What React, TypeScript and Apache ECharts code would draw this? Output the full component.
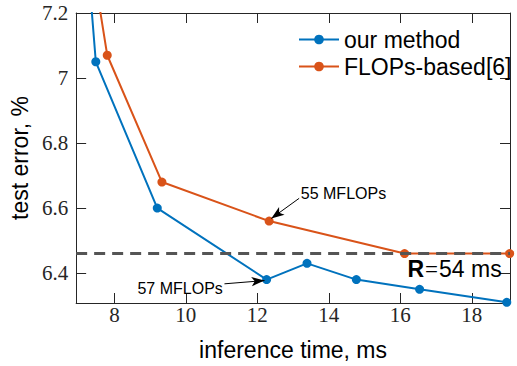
import React, { useEffect, useRef } from "react";
import * as echarts from "echarts";

const ourMethod: [number, number][] = [
  [7.08, 7.6], [7.48, 7.05], [9.2, 6.6], [12.26, 6.38], [13.39, 6.43],
  [14.77, 6.38], [16.54, 6.35], [18.98, 6.31],
];
const flopsBased: [number, number][] = [
  [7.03, 7.6], [7.8, 7.07], [9.33, 6.68], [12.33, 6.56], [16.12, 6.46], [19.06, 6.46],
];
const seriesNames = ["our method", "FLOPs-based[6]"];
const budget = 6.46;
const xRange = [6.93, 19.07];
const yRange = [6.308, 7.2];
const arrows: { from: [number, number]; to: [number, number] }[] = [
  { from: [13.17, 6.63], to: [12.39, 6.568] },
  { from: [11.08, 6.367], to: [12.2, 6.377] },
];
const notes: { at: [number, number]; text: string }[] = [
  { at: [14.41, 6.646], text: "55 MFLOPs" },
  { at: [9.84, 6.352], text: "57 MFLOPs" },
];
const budgetLabelAt: [number, number] = [16.2, 6.412];

const SANS = "Liberation Sans";
const SERIF = "Liberation Serif";
const AXIS = "#262626";

export default function App() {
  const ref = useRef<HTMLDivElement>(null);
  useEffect(() => {
    const chart = echarts.init(ref.current!, null, { renderer: "svg" });
    const axisCommon = {
      type: "value" as const,
      axisLine: { show: true, lineStyle: { color: AXIS, width: 1 } },
      axisTick: { show: true, inside: true, length: 10, lineStyle: { color: AXIS } },
      splitLine: { show: false },
    };
    const tickText = {
      fontFamily: SERIF,
      fontSize: 21,
      color: AXIS,
    };
    chart.setOption({
      animation: false,
      grid: { left: 69, top: 13, right: 7, bottom: 59, containLabel: false },
      legend: {
        data: seriesNames,
        orient: "vertical",
        left: 298,
        top: 28,
        itemWidth: 40,
        itemHeight: 12,
        itemGap: 4,
        textStyle: { fontFamily: SANS, fontSize: 23, color: "#000", lineHeight: 23 },
        padding: 0,
      },
      xAxis: [
        {
          ...axisCommon,
          min: xRange[0],
          max: xRange[1],
          splitNumber: 6,
          minInterval: 2,
          maxInterval: 2,
          position: "bottom",
          name: "inference time, ms",
          nameLocation: "middle",
          nameGap: 35,
          nameTextStyle: { fontFamily: SANS, fontSize: 23, color: "#000" },
          axisLabel: {
            ...tickText,
            showMinLabel: false,
            showMaxLabel: false,
            margin: 1,
          },
        },
        {
          ...axisCommon,
          min: xRange[0],
          max: xRange[1],
          splitNumber: 6,
          minInterval: 2,
          maxInterval: 2,
          position: "top",
          axisLabel: { show: false },
        },
      ],
      yAxis: [
        {
          ...axisCommon,
          min: yRange[0],
          max: yRange[1],
          splitNumber: 5,
          minInterval: 0.2,
          maxInterval: 0.2,
          position: "left",
          name: "test error, %",
          nameLocation: "middle",
          nameGap: 42,
          nameTextStyle: { fontFamily: SANS, fontSize: 23, color: "#000" },
          axisLabel: {
            ...tickText,
            showMinLabel: false,
            margin: 8,
          },
        },
        {
          ...axisCommon,
          min: yRange[0],
          max: yRange[1],
          splitNumber: 5,
          minInterval: 0.2,
          maxInterval: 0.2,
          position: "right",
          axisLabel: { show: false },
        },
      ],
      series: [
        {
          name: seriesNames[0],
          type: "line",
          data: ourMethod,
          symbol: "circle",
          symbolSize: 9,
          clip: true,
          color: "#0072BD",
          lineStyle: { width: 2, color: "#0072BD" },
          itemStyle: { color: "#0072BD" },
          markPoint: {
            symbol: "circle",
            symbolSize: 0,
            silent: true,
            data: [
              ...notes.map((n) => ({
                coord: n.at,
                label: {
                  show: true,
                  position: "inside",
                  formatter: n.text,
                  fontFamily: SANS,
                  fontSize: 16,
                  color: "#000",
                },
              })),
              {
                coord: budgetLabelAt,
                label: {
                  show: true,
                  position: "right",
                  distance: 0,
                  formatter: "{b|R}{e|=}{n|54 ms}",
                  rich: {
                    b: { fontFamily: SANS, fontSize: 23, fontWeight: "bold", color: "#000" },
                    e: { fontFamily: SERIF, fontSize: 23, color: "#000", padding: [0, 1, 0, 1] },
                    n: { fontFamily: SANS, fontSize: 23, color: "#000" },
                  },
                },
              },
            ],
          },
        },
        {
          name: seriesNames[1],
          type: "line",
          data: flopsBased,
          symbol: "circle",
          symbolSize: 9,
          clip: true,
          color: "#D95319",
          lineStyle: { width: 2, color: "#D95319" },
          itemStyle: { color: "#D95319" },
          markLine: {
            silent: true,
            symbol: ["none", "none"],
            label: { show: false },
            data: [
              {
                yAxis: budget,
                lineStyle: { color: "#555555", width: 3, type: [11, 7] },
              },
              ...arrows.map((a) => [
                { coord: a.from, lineStyle: { color: "#000", width: 1, type: "solid" } },
                { coord: a.to, symbol: "arrow", symbolSize: [7, 13] },
              ]),
            ],
          },
        },
      ],
    });
    return () => chart.dispose();
  }, []);
  return (
    <div
      ref={ref}
      style={{ position: "absolute", left: 0, top: 0, width: 517, height: 366, background: "#fff" }}
    />
  );
}
